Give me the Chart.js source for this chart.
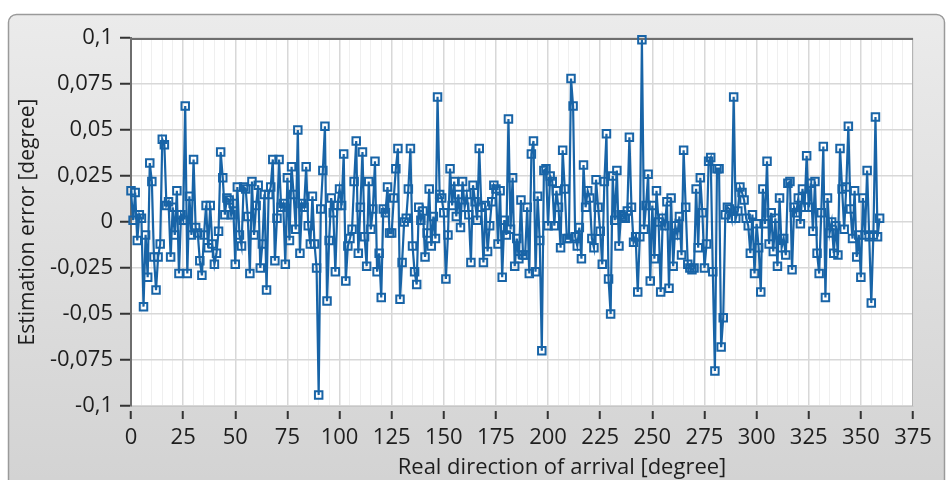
<!DOCTYPE html>
<html>
<head>
<meta charset="utf-8">
<title>Estimation error</title>
<script src="https://cdn.jsdelivr.net/npm/chart.js@4.4.1/dist/chart.umd.min.js"></script>
<style>
  html, body { margin: 0; padding: 0; background: #fff; }
  #box { width: 948px; height: 480px; }
</style>
</head>
<body>
<div id="box"><canvas id="grafico" width="948" height="480"></canvas></div>
<script>
// estimation error per degree (0..359)
const errors = [
  0.017, 0.001, 0.016, -0.010, 0.004, 0.002, -0.046, -0.007, -0.030, 0.032,
  0.022, -0.019, -0.037, -0.019, -0.012, 0.045, 0.042, 0.009, 0.011, -0.019,
  0.008, -0.007, 0.017, -0.028, 0.004, 0.001, 0.063, -0.028, 0.014, -0.007,
  0.034, -0.003, -0.006, -0.021, -0.029, -0.007, 0.009, -0.014, 0.009, -0.012,
  -0.023, -0.017, -0.005, 0.038, 0.024, 0.004, 0.013, 0.012, 0.004, 0.010,
  -0.023, 0.019, -0.007, -0.013, 0.019, 0.018, 0.003, -0.028, 0.022, -0.007,
  0.009, 0.020, -0.025, -0.012, 0.015, -0.037, 0.015, 0.019, 0.034, -0.021,
  0.002, 0.034, 0.008, 0.010, -0.023, 0.024, -0.010, 0.030, 0.015, -0.004,
  0.050, -0.017, 0.010, 0.008, 0.030, -0.002, -0.012, 0.014, -0.012, -0.025,
  -0.094, 0.007, 0.028, 0.052, -0.043, -0.010, 0.013, 0.005, -0.027, 0.009,
  0.018, 0.009, 0.037, -0.032, -0.013, -0.009, -0.004, 0.022, 0.044, -0.017,
  0.008, 0.038, -0.008, -0.024, 0.022, -0.004, 0.007, 0.033, -0.027, -0.017,
  -0.041, 0.007, 0.005, 0.019, -0.006, -0.006, 0.013, 0.029, 0.040, -0.042,
  -0.022, 0.000, 0.002, 0.018, 0.040, -0.013, -0.027, -0.034, 0.008, 0.001,
  0.006, -0.019, -0.006, 0.018, -0.013, 0.003, -0.009, 0.068, 0.015, 0.013,
  0.005, -0.031, -0.007, 0.029, 0.009, 0.022, 0.003, 0.015, -0.003, 0.022,
  0.008, 0.015, 0.004, -0.022, 0.020, 0.011, 0.001, 0.040, 0.008, -0.022,
  0.009, -0.016, -0.002, 0.011, 0.020, 0.018, -0.012, 0.017, -0.030, 0.001,
  -0.007, 0.056, -0.004, 0.024, -0.024, -0.009, -0.020, 0.012, -0.018, -0.018,
  0.008, -0.028, 0.037, 0.044, -0.027, 0.014, -0.010, -0.070, 0.028, 0.029,
  -0.002, 0.025, 0.022, -0.002, 0.017, 0.008, -0.014, 0.039, 0.018, -0.009,
  -0.009, 0.078, 0.063, -0.008, -0.013, -0.003, -0.020, 0.031, 0.008, 0.017,
  0.013, -0.009, -0.014, 0.023, 0.008, -0.005, -0.023, 0.022, 0.048, -0.031,
  -0.050, 0.025, 0.001, 0.028, -0.013, 0.004, 0.003, 0.002, 0.006, 0.046,
  0.008, -0.011, -0.008, -0.038, -0.008, 0.099, -0.004, 0.009, 0.026, -0.032,
  0.009, -0.020, 0.017, 0.000, -0.038, 0.002, -0.002, 0.011, -0.036, 0.013,
  -0.024, -0.002, -0.007, 0.003, -0.018, 0.039, 0.008, -0.023, -0.025, -0.026,
  -0.025, 0.018, -0.014, 0.024, 0.005, -0.025, -0.012, 0.033, 0.035, -0.027,
  -0.081, 0.029, 0.029, -0.068, -0.052, 0.004, 0.008, 0.007, 0.002, 0.068,
  0.002, 0.006, 0.019, 0.016, 0.012, 0.002, -0.002, -0.017, 0.004, -0.028,
  -0.001, -0.014, -0.038, 0.018, -0.001, 0.033, -0.012, 0.005, -0.016, 0.002,
  -0.024, 0.013, -0.014, -0.009, -0.018, 0.021, 0.022, -0.026, 0.008, 0.005,
  0.013, -0.001, 0.018, 0.008, 0.036, 0.008, 0.021, -0.005, 0.022, -0.017,
  -0.028, 0.005, 0.041, -0.041, 0.013, -0.006, 0.000, -0.017, -0.002, -0.018,
  0.040, 0.018, -0.004, 0.019, 0.052, 0.007, -0.009, 0.017, -0.019, -0.007,
  -0.030, 0.013, -0.007, 0.028, -0.008, -0.044, -0.007, 0.057, -0.008, 0.002
];

// one point per degree
let angles = [];
for (let i = 0; i < errors.length; i++) {
  angles.push(i);
}

const xTickLabels = ["0", "25", "50", "75", "100", "125", "150", "175", "200",
  "225", "250", "275", "300", "325", "350", "375"];
const yTickLabels = ["-0,1", "-0,075", "-0,05", "-0,025", "0", "0,025", "0,05", "0,075", "0,1"];

const xTitle = "Real direction of arrival [degree]";
const yTitle = "Estimation error [degree]";

const fonte = '"Open Sans", "Noto Sans", sans-serif';
const corTexto = "#1e1e1e";

// grey LabVIEW-like panel behind the plot
const painel = {
  id: "painel",
  beforeDraw(chart) {
    const ctx = chart.ctx;
    const a = chart.chartArea;
    ctx.save();
    ctx.fillStyle = "#ffffff";
    ctx.fillRect(0, 0, chart.width, chart.height);
    const g = ctx.createLinearGradient(0, 14, 0, 480);
    g.addColorStop(0, "#ebebeb");
    g.addColorStop(1, "#d3d3d3");
    ctx.beginPath();
    ctx.roundRect(8.5, 14.5, 936, 490, 8);
    ctx.fillStyle = g;
    ctx.fill();
    ctx.strokeStyle = "#9a9a9a";
    ctx.lineWidth = 1.5;
    ctx.stroke();
    ctx.fillStyle = "#ffffff";
    ctx.fillRect(a.left, a.top, a.right - a.left, a.bottom - a.top);
    ctx.restore();
  },
  beforeDatasetsDraw(chart) {
    const ctx = chart.ctx;
    const a = chart.chartArea;
    ctx.save();
    ctx.strokeStyle = "#b4b4b4";
    ctx.lineWidth = 1;
    ctx.beginPath();
    ctx.moveTo(a.right - 0.5, a.top);
    ctx.lineTo(a.right - 0.5, a.bottom);
    ctx.stroke();
    ctx.strokeStyle = "#6e6e6e";
    ctx.lineWidth = 2;
    ctx.beginPath();
    ctx.moveTo(a.left, a.top + 1);
    ctx.lineTo(a.right, a.top + 1);
    ctx.stroke();
    ctx.restore();
  },
  afterDraw(chart) {
    const ctx = chart.ctx;
    ctx.save();
    ctx.font = "22px " + fonte;
    ctx.fillStyle = corTexto;
    ctx.textAlign = "center";
    ctx.textBaseline = "middle";
    ctx.fillText(xTitle, 562, 468);
    ctx.restore();
  }
};

function criarGrafico() {
  const ctx = document.getElementById("grafico");

  new Chart(ctx, {
    type: "line",
    data: {
      labels: angles,
      datasets: [{
        data: errors,
        borderColor: "#1864a7",
        borderWidth: 2.2,
        pointStyle: "rect",
        pointRadius: 5.3,
        pointBorderWidth: 2,
        pointBorderColor: "#1864a7",
        pointBackgroundColor: "rgba(255,255,255,0)",
        tension: 0,
        clip: 6
      }]
    },
    options: {
      responsive: false,
      animation: false,
      layout: { padding: { left: 0, top: 38, right: 35, bottom: 0 } },
      plugins: {
        legend: { display: false },
        tooltip: { enabled: false }
      },
      scales: {
        x: {
          type: "linear",
          min: 0,
          max: 375,
          afterFit(scale) { scale.height = 74; },
          border: { display: true, color: "#c6c6c6", width: 1 },
          grid: {
            color: (c) => (c.tick && c.tick.value % 25 === 0) ? "#d8d8d8" : "#efefef",
            lineWidth: (c) => (c.tick && c.tick.value % 25 === 0) ? 1.5 : 1,
            tickColor: (c) => (c.tick && c.tick.value % 25 === 0) ? "#333333" : "rgba(0,0,0,0)",
            tickLength: 13,
            tickWidth: 2,
            tickBorderDash: [0, 4, 9, 100]
          },
          ticks: {
            stepSize: 5,
            autoSkip: false,
            maxRotation: 0,
            padding: 6,
            color: corTexto,
            font: { family: fonte, size: 22 },
            callback: (v) => v % 25 === 0 ? xTickLabels[v / 25] : ""
          }
        },
        y: {
          min: -0.1,
          max: 0.1,
          afterFit(scale) { scale.width = 131; },
          border: { display: true, color: "#6e6e6e", width: 2 },
          grid: {
            color: "#d8d8d8",
            lineWidth: 1.5,
            tickColor: "#333333",
            tickLength: 14,
            tickWidth: 2,
            tickBorderDash: [0, 3, 11, 100]
          },
          ticks: {
            stepSize: 0.025,
            padding: 4,
            color: corTexto,
            font: { family: fonte, size: 22 },
            callback: (v, i) => yTickLabels[i]
          },
          title: {
            display: true,
            text: yTitle,
            color: corTexto,
            font: { family: fonte, size: 21 },
            padding: { top: 15, bottom: 0 }
          }
        }
      }
    },
    plugins: [painel]
  });
}

criarGrafico();
</script>
</body>
</html>
